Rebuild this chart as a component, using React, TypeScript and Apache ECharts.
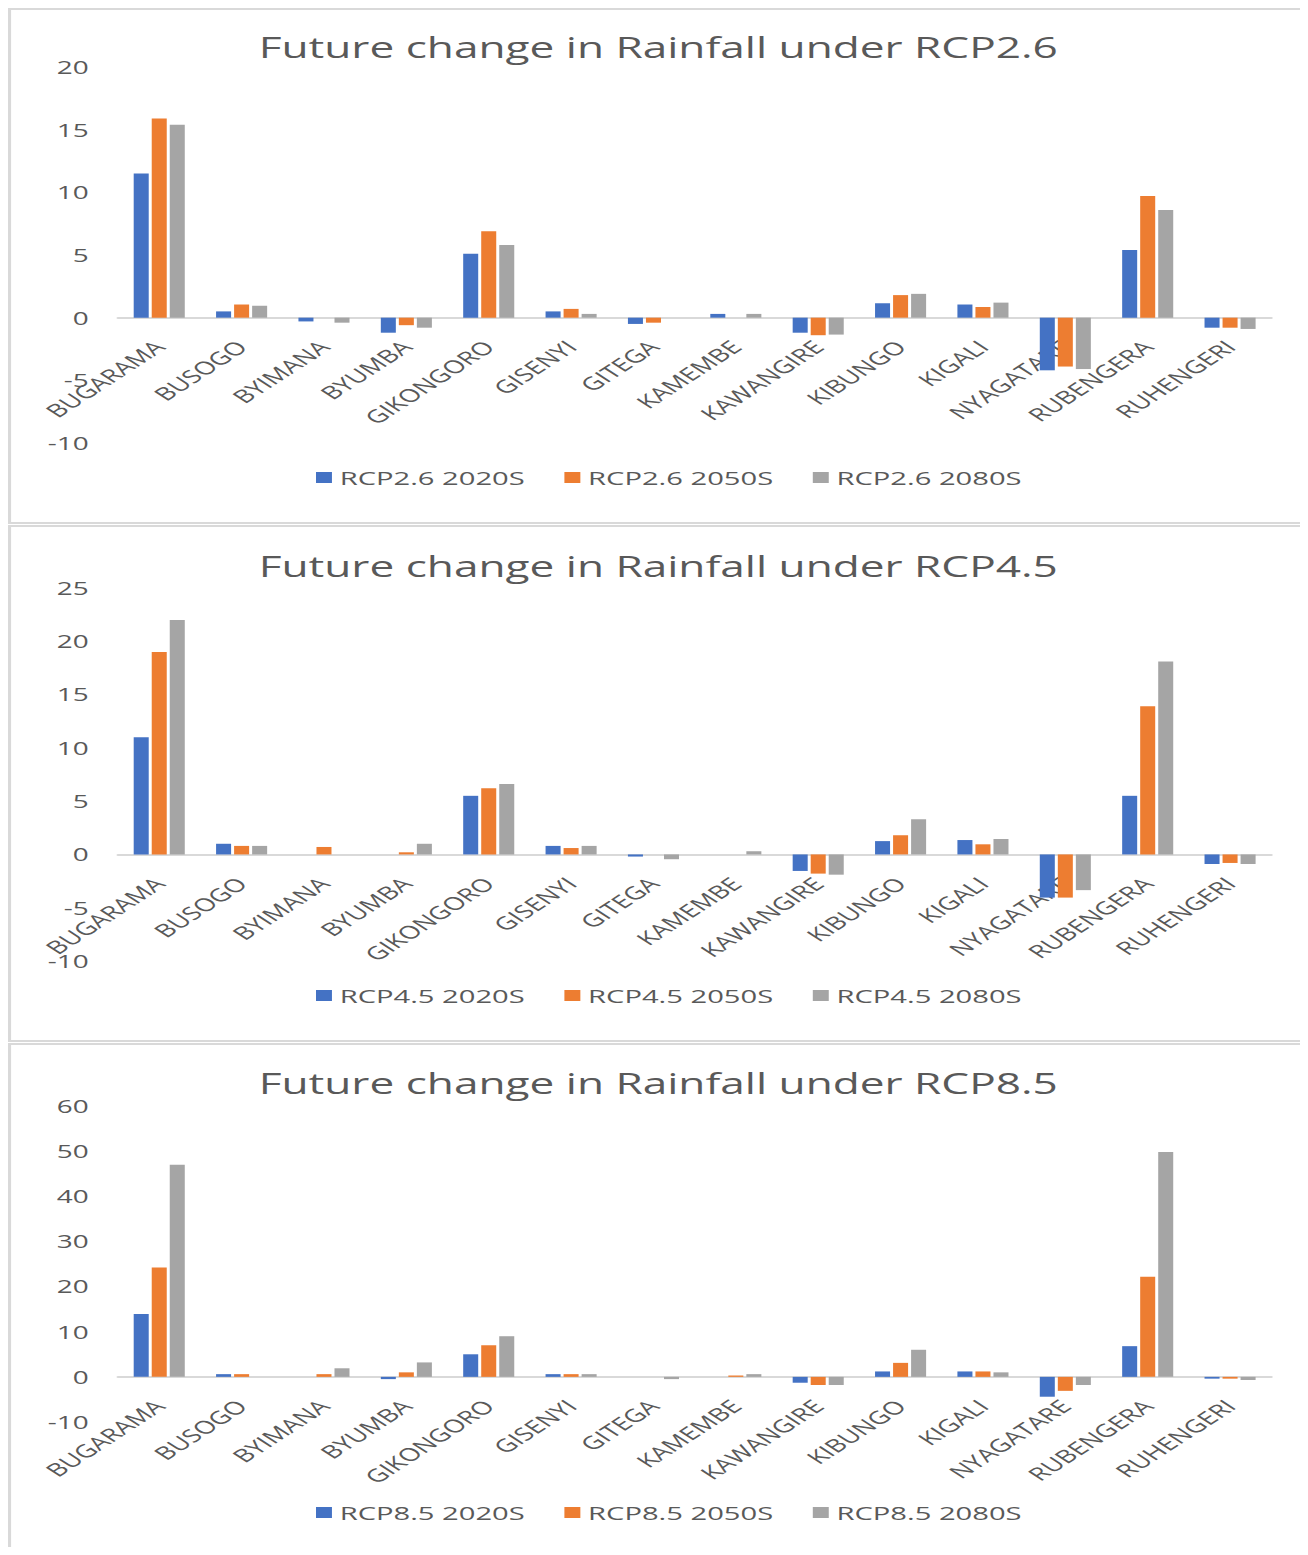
import React, { useEffect, useRef } from 'react';
import * as echarts from 'echarts';

// ---------- data ----------
const categories = [
  'BUGARAMA', 'BUSOGO', 'BYIMANA', 'BYUMBA', 'GIKONGORO', 'GISENYI', 'GITEGA',
  'KAMEMBE', 'KAWANGIRE', 'KIBUNGO', 'KIGALI', 'NYAGATARE', 'RUBENGERA', 'RUHENGERI',
];

const rcp26_2020s = [11.5, 0.5, -0.3, -1.2, 5.1, 0.5, -0.5, 0.3, -1.2, 1.15, 1.05, -4.2, 5.4, -0.8];
const rcp26_2050s = [15.9, 1.05, 0, -0.6, 6.9, 0.7, -0.4, 0, -1.4, 1.8, 0.85, -3.9, 9.7, -0.8];
const rcp26_2080s = [15.4, 0.95, -0.4, -0.8, 5.8, 0.3, 0, 0.3, -1.35, 1.9, 1.2, -4.1, 8.6, -0.9];

const rcp45_2020s = [11.0, 1.0, 0, 0, 5.5, 0.8, -0.2, 0, -1.55, 1.25, 1.35, -4.05, 5.5, -0.9];
const rcp45_2050s = [19.0, 0.8, 0.7, 0.2, 6.2, 0.6, 0, 0, -1.8, 1.8, 0.95, -4.05, 13.9, -0.8];
const rcp45_2080s = [22.0, 0.8, 0, 1.0, 6.6, 0.8, -0.45, 0.3, -1.9, 3.3, 1.45, -3.35, 18.1, -0.9];

const rcp85_2020s = [13.9, 0.6, 0, -0.5, 5.0, 0.6, 0, 0, -1.3, 1.2, 1.2, -4.4, 6.8, -0.4];
const rcp85_2050s = [24.2, 0.6, 0.6, 1.0, 7.0, 0.6, 0, 0.3, -1.8, 3.1, 1.2, -3.1, 22.2, -0.4];
const rcp85_2080s = [47.0, 0, 1.9, 3.2, 9.0, 0.6, -0.5, 0.6, -1.8, 6.0, 1.0, -1.8, 49.8, -0.7];

const titles = [
  'Future change in Rainfall under RCP2.6',
  'Future change in Rainfall under RCP4.5',
  'Future change in Rainfall under RCP8.5',
];
const seriesNames = [
  ['RCP2.6 2020S', 'RCP2.6 2050S', 'RCP2.6 2080S'],
  ['RCP4.5 2020S', 'RCP4.5 2050S', 'RCP4.5 2080S'],
  ['RCP8.5 2020S', 'RCP8.5 2050S', 'RCP8.5 2080S'],
];
const seriesData = [
  [rcp26_2020s, rcp26_2050s, rcp26_2080s],
  [rcp45_2020s, rcp45_2050s, rcp45_2080s],
  [rcp85_2020s, rcp85_2050s, rcp85_2080s],
];
const yMins = [-10, -10, -10];
const yMaxs = [20, 25, 60];
const yIntervals = [5, 5, 10];

// ---------- styles / layout ----------
const colors = ['#4472C4', '#ED7D31', '#A5A5A5'];
const textColor = '#595959';
const lineColor = '#D9D9D9';
const FONT = 'Open Sans';
const S = 1.55; // horizontal stretch of the original picture
const W = 1300 / S;
const H = 1539;

const panelTops = [0, 517, 1035];
const panelHeights = [516, 517, 530];
const gridTops = [59, 580, 1098];
const gridHeights = [376, 373, 316];
const titleTops = [24, 543, 1060];
const legendTops = [460, 978, 1495];
const gridLeft = 71;
const gridRight = 24;
const labelGapBelowZero = 26;

function buildOption(): any {
  const grid: any[] = [];
  const xAxis: any[] = [];
  const yAxis: any[] = [];
  const series: any[] = [];
  const title: any[] = [];
  const legend: any[] = [];
  const graphic: any[] = [];

  for (let i = 0; i < 3; i++) {
    // distance (px) between the grid bottom and the zero line; labels are anchored to the grid bottom
    const zeroDist = (gridHeights[i] * (0 - yMins[i])) / (yMaxs[i] - yMins[i]);
    grid.push({ left: gridLeft, right: gridRight, top: gridTops[i], height: gridHeights[i], containLabel: false });
    xAxis.push({
      type: 'category',
      gridIndex: i,
      data: categories,
      axisLine: { onZero: true, lineStyle: { color: lineColor, width: 2 } },
      axisTick: { show: false },
      axisLabel: {
        rotate: 45,
        interval: 0,
        fontSize: 18,
        color: textColor,
        fontFamily: FONT,
        margin: labelGapBelowZero - zeroDist,
      },
      splitLine: { show: false },
    });
    yAxis.push({
      type: 'value',
      gridIndex: i,
      min: yMins[i],
      max: yMaxs[i],
      interval: yIntervals[i],
      axisLine: { show: false },
      axisTick: { show: false },
      splitLine: { show: false },
      axisLabel: { fontSize: 18, color: textColor, fontFamily: FONT, margin: 19 },
    });
    for (let k = 0; k < 3; k++) {
      series.push({
        type: 'bar',
        name: seriesNames[i][k],
        xAxisIndex: i,
        yAxisIndex: i,
        data: seriesData[i][k],
        itemStyle: { color: colors[k] },
        barGap: '20%',
        barCategoryGap: '38%',
      });
    }
    title.push({
      text: titles[i],
      left: 'center',
      top: titleTops[i],
      padding: 0,
      textStyle: { fontSize: 28.5, fontWeight: 'normal', color: textColor, fontFamily: FONT },
    });
    legend.push({
      data: seriesNames[i],
      left: 198.7,
      top: legendTops[i],
      padding: 0,
      icon: 'rect',
      itemWidth: 10.3,
      itemHeight: 11,
      itemGap: 25.7,
      textStyle: { fontSize: 18.8, color: textColor, fontFamily: FONT },
    });
    graphic.push({
      type: 'rect',
      shape: { x: 1, y: panelTops[i] + 1, width: 835.5, height: panelHeights[i] - 2 },
      style: { fill: 'none', stroke: lineColor, lineWidth: 2 },
      silent: true,
    });
  }

  return {
    animation: false,
    backgroundColor: '#ffffff',
    grid,
    xAxis,
    yAxis,
    series,
    title,
    legend,
    graphic,
  };
}

export default function App() {
  const ref = useRef<HTMLDivElement>(null);
  useEffect(() => {
    if (!ref.current) return;
    const chart = echarts.init(ref.current, null, { renderer: 'svg' });
    chart.setOption(buildOption());
    return () => chart.dispose();
  }, []);
  return (
    <div style={{ width: 1300, height: H, overflow: 'hidden' }}>
      <div
        ref={ref}
        style={{ width: W, height: H, transform: `scaleX(${S})`, transformOrigin: '0 0' }}
      />
    </div>
  );
}
